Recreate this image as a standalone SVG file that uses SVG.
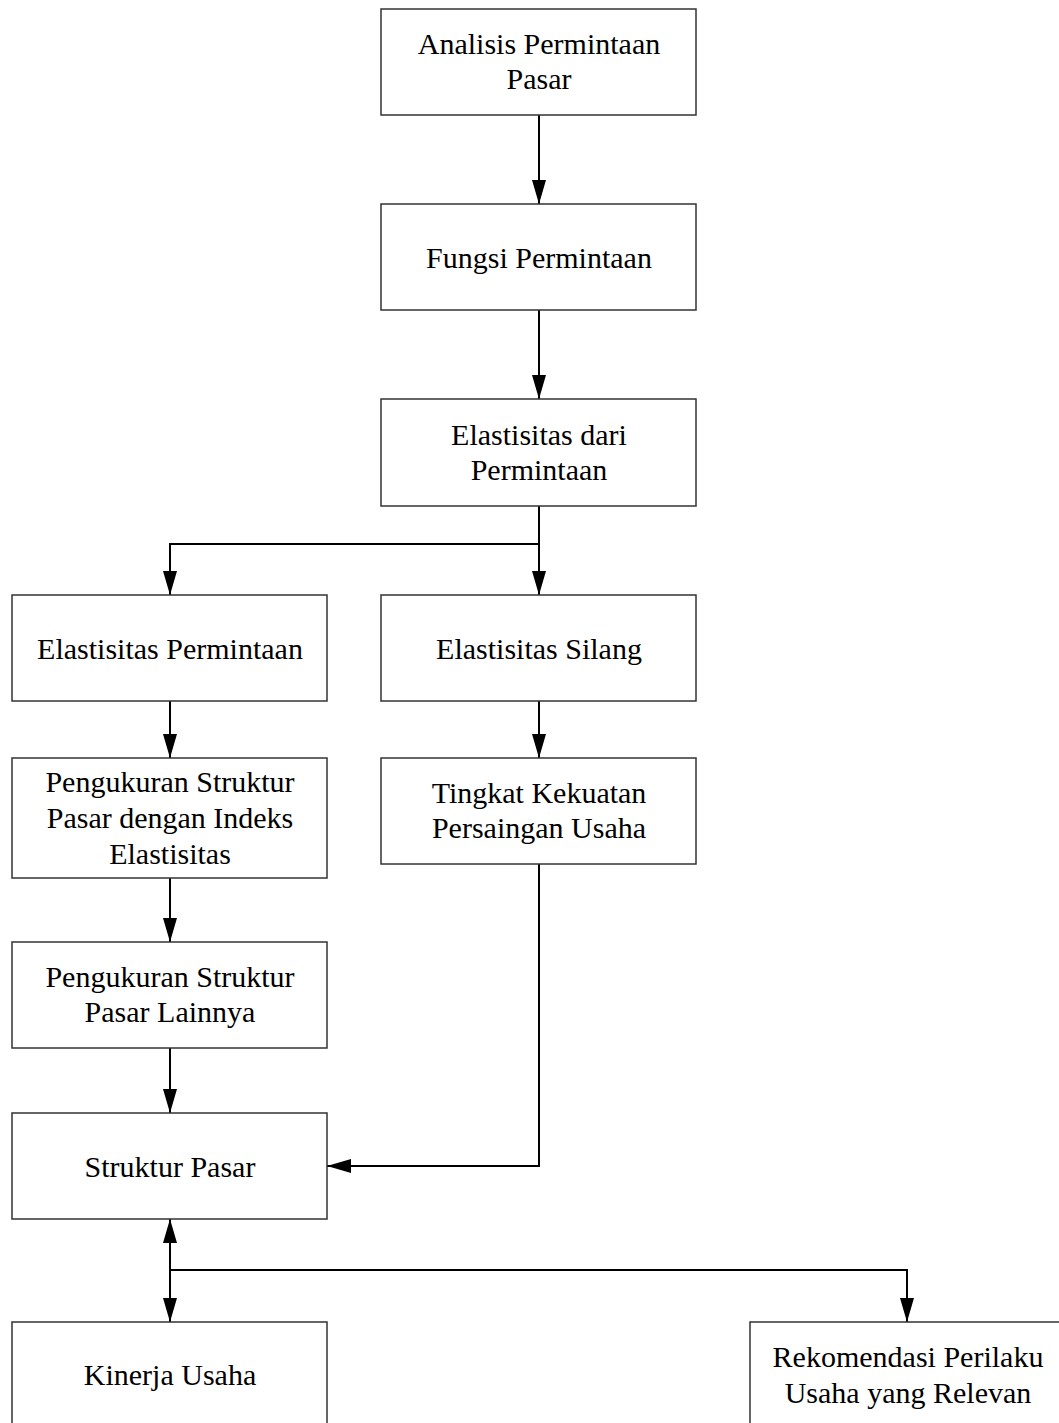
<svg xmlns="http://www.w3.org/2000/svg" width="1059" height="1423" viewBox="0 0 1059 1423">
<style>
.box{fill:#fff;stroke:#333;stroke-width:1.5}
.lbl{font-family:"Liberation Serif","Times New Roman",serif;font-size:30px;fill:#000;text-anchor:middle}
.con{fill:none;stroke:#000;stroke-width:2}
</style>
<defs>
<marker id="ah" viewBox="0 0 24 14" refX="24" refY="7" markerWidth="24" markerHeight="14" markerUnits="userSpaceOnUse" orient="auto-start-reverse">
<path d="M0,0 L24,7 L0,14 Z" fill="#000"/>
</marker>
</defs>
<rect width="1059" height="1423" fill="#fff"/>
<g id="connectors">
<path class="con" d="M539,115 V204" marker-end="url(#ah)"/>
<path class="con" d="M539,310 V399" marker-end="url(#ah)"/>
<path class="con" d="M539,506 V595" marker-end="url(#ah)"/>
<path class="con" d="M539,544 H170 V595" marker-end="url(#ah)"/>
<path class="con" d="M170,701 V758" marker-end="url(#ah)"/>
<path class="con" d="M539,701 V758" marker-end="url(#ah)"/>
<path class="con" d="M170,878 V942" marker-end="url(#ah)"/>
<path class="con" d="M170,1048 V1113" marker-end="url(#ah)"/>
<path class="con" d="M539,864 V1166 H327" marker-end="url(#ah)"/>
<path class="con" d="M170,1219 V1322" marker-start="url(#ah)" marker-end="url(#ah)"/>
<path class="con" d="M170,1270 H907 V1322" marker-end="url(#ah)"/>
</g>
<g id="n1"><rect class="box" x="381" y="9" width="315" height="106"/><text class="lbl" x="539" y="54">Analisis Permintaan</text><text class="lbl" x="539" y="89">Pasar</text></g>
<g id="n2"><rect class="box" x="381" y="204" width="315" height="106"/><text class="lbl" x="539" y="268">Fungsi Permintaan</text></g>
<g id="n3"><rect class="box" x="381" y="399" width="315" height="107"/><text class="lbl" x="539" y="445">Elastisitas dari</text><text class="lbl" x="539" y="480">Permintaan</text></g>
<g id="n4"><rect class="box" x="12" y="595" width="315" height="106"/><text class="lbl" x="170" y="659">Elastisitas Permintaan</text></g>
<g id="n5"><rect class="box" x="381" y="595" width="315" height="106"/><text class="lbl" x="539" y="659">Elastisitas Silang</text></g>
<g id="n6"><rect class="box" x="12" y="758" width="315" height="120"/><text class="lbl" x="170" y="792">Pengukuran Struktur</text><text class="lbl" x="170" y="828">Pasar dengan Indeks</text><text class="lbl" x="170" y="864">Elastisitas</text></g>
<g id="n7"><rect class="box" x="381" y="758" width="315" height="106"/><text class="lbl" x="539" y="803">Tingkat Kekuatan</text><text class="lbl" x="539" y="838">Persaingan Usaha</text></g>
<g id="n8"><rect class="box" x="12" y="942" width="315" height="106"/><text class="lbl" x="170" y="987">Pengukuran Struktur</text><text class="lbl" x="170" y="1022">Pasar Lainnya</text></g>
<g id="n9"><rect class="box" x="12" y="1113" width="315" height="106"/><text class="lbl" x="170" y="1177">Struktur Pasar</text></g>
<g id="n10"><rect class="box" x="12" y="1322" width="315" height="106"/><text class="lbl" x="170" y="1385">Kinerja Usaha</text></g>
<g id="n11"><rect class="box" x="750" y="1322" width="316" height="106"/><text class="lbl" x="908" y="1367">Rekomendasi Perilaku</text><text class="lbl" x="908" y="1403">Usaha yang Relevan</text></g>
</svg>
